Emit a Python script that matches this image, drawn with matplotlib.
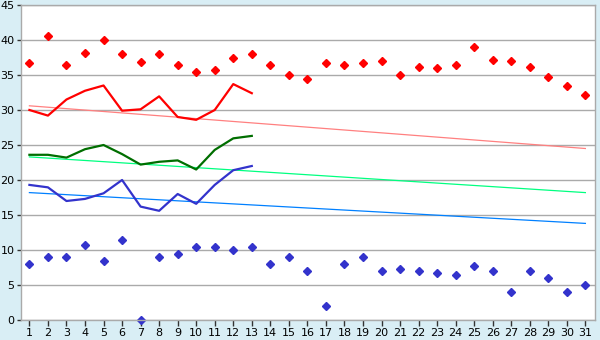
import matplotlib
matplotlib.use("Agg")
import matplotlib.pyplot as plt
import numpy as np

days = list(range(1, 32))
max_pts = [36.7, 40.6, 36.4, 38.1, 40.0, 38.0, 36.8, 38.0, 36.4, 35.4,
           35.7, 37.4, 38.0, 36.4, 35.0, 34.4, 36.7, 36.4, 36.7, 37.0,
           35.0, 36.2, 36.0, 36.5, 39.0, 37.1, 37.0, 36.1, 34.7, 33.4, 32.2]
min_pts = [8.0, 9.0, 9.0, 10.7, 8.5, 11.5, 0.0, 9.0, 9.5, 10.5,
           10.4, 10.0, 10.5, 8.0, 9.0, 7.0, 2.0, 8.0, 9.0, 7.0,
           7.25, 7.0, 6.7, 6.5, 7.7, 7.0, 4.0, 7.0, 6.0, 4.0, 5.0]
line_days = list(range(1, 14))
red_line = [30.0, 29.2, 31.5, 32.75, 33.5, 29.9, 30.1, 31.95, 29.0, 28.6, 30.0, 33.7, 32.4]
green_line = [23.6, 23.6, 23.2, 24.4, 25.0, 23.7, 22.2, 22.6, 22.8, 21.5, 24.3, 25.95, 26.3]
blue_line = [19.3, 18.95, 17.0, 17.3, 18.1, 20.0, 16.2, 15.6, 18.0, 16.6, 19.3, 21.4, 22.0]
trend_days = [1, 31]
red_trend = [30.6, 24.5]
green_trend = [23.3, 18.2]
blue_trend = [18.2, 13.8]

bg = "#d9eef5"
fig = plt.figure(figsize=(6, 3.4), dpi=100, facecolor=bg)
ax = fig.add_axes([20.7/600, 1-320/340, (595-20.7)/600, 315/340])
ax.set_facecolor("white")

ax.plot(trend_days, red_trend, color="#ff8080", lw=0.9)
ax.plot(trend_days, green_trend, color="#00ff80", lw=0.9)
ax.plot(trend_days, blue_trend, color="#0080ff", lw=0.9)

ax.plot(line_days, red_line, color="#ff0000", lw=1.6)
ax.plot(line_days, green_line, color="#006e00", lw=1.6)
ax.plot(line_days, blue_line, color="#3333cc", lw=1.6)

ax.plot(days, max_pts, linestyle="none", marker="D", markersize=3.8, color="#ff0000", clip_on=False)
ax.plot(days, min_pts, linestyle="none", marker="D", markersize=3.8, color="#3333cc", clip_on=False)

ax.set_xlim(0.53, 31.52)
ax.set_ylim(0, 45)
ax.set_xticks(days)
ax.set_xticklabels([str(d) for d in days])
ax.set_yticks(range(0, 46, 5))
ax.yaxis.grid(True, color="#aaaaaa", lw=1)
ax.set_axisbelow(True)
for s in ax.spines.values():
    s.set_color("#aaaaaa")
    s.set_linewidth(1)
ax.tick_params(axis="both", labelcolor="#000000", color="#333333", labelsize=8,
               length=3, width=1, direction="out", pad=1.5)
ax.tick_params(axis="x", length=4, pad=2)

fig.savefig("out.png", dpi=100, facecolor=bg)
